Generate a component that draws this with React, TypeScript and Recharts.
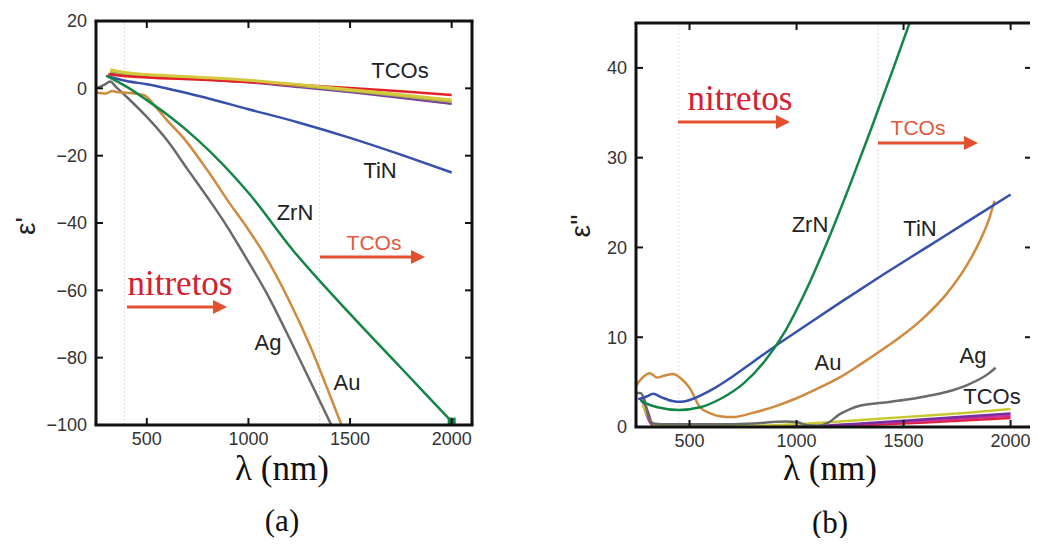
import { Line, LineChart, ReferenceLine, XAxis, YAxis } from 'recharts';

// (a) real part, wavelength in nm -> eps'
const tcoRedReal = [[310, 4.2], [400, 3.6], [500, 3.2], [750, 2.6], [1000, 1.9], [1250, 1.0], [1500, 0.1], [1750, -0.9], [2000, -2.0]];
const tcoPurpleReal = [[320, 4.6], [400, 3.9], [500, 3.5], [750, 2.8], [1000, 1.8], [1250, 0.4], [1500, -1.1], [1750, -2.8], [2000, -4.6]];
const tcoOliveReal = [[320, 5.0], [400, 4.3], [500, 3.8], [750, 3.0], [1000, 2.1], [1250, 0.8], [1500, -0.7], [1750, -2.3], [2000, -4.0]];
const tcoYellowReal = [[320, 5.5], [400, 4.6], [500, 4.1], [750, 3.3], [1000, 2.4], [1250, 1.1], [1500, -0.4], [1750, -1.9], [2000, -3.5]];
const tinReal = [[310, 3.5], [400, 2.2], [500, 1.2], [750, -2.2], [1000, -6.2], [1250, -10.2], [1500, -14.7], [1750, -19.7], [2000, -25]];
const zrnReal = [[300, 3.8], [400, 0.5], [500, -3.5], [600, -7.8], [750, -15.3], [1000, -31], [1218, -48], [1500, -67], [1750, -83], [2000, -99]];
const agReal = [[250, 0], [290, 1], [320, 2], [350, 0.3], [400, -2.5], [500, -8.5], [598, -15.3], [700, -24], [800, -32.5], [900, -41.5], [965, -48], [1100, -62], [1200, -74], [1300, -86.5], [1408, -100]];
const auReal = [[250, -1.2], [300, -1.5], [330, -0.8], [360, -1.2], [400, -1.3], [485, -2], [550, -6], [600, -9.5], [688, -15.3], [800, -24.5], [900, -33.5], [1000, -42], [1065, -48], [1200, -63], [1300, -76], [1400, -91], [1458, -100]];

// (b) imaginary part -> eps''
const zrnImag = [[270, 3.0], [300, 2.6], [350, 2.2], [450, 1.9], [550, 2.2], [650, 3.2], [750, 4.8], [850, 7.3], [950, 10.8], [1050, 15.5], [1150, 21], [1250, 27], [1350, 33.3], [1450, 39.8], [1540, 45.8]];
const tinImag = [[260, 3.1], [300, 3.4], [330, 3.7], [370, 3.3], [420, 2.9], [460, 2.8], [500, 3.0], [600, 4.1], [700, 5.6], [800, 7.3], [900, 9.0], [1000, 10.6], [1200, 13.8], [1400, 16.9], [1600, 19.9], [1800, 22.9], [2000, 25.9]];
const auImag = [[250, 4.6], [280, 5.5], [316, 6.0], [348, 5.5], [380, 5.7], [423, 5.9], [460, 5.4], [502, 4.3], [549, 2.2], [600, 1.5], [642, 1.2], [700, 1.1], [800, 1.6], [900, 2.3], [1000, 3.2], [1100, 4.3], [1200, 5.5], [1300, 7.0], [1400, 8.6], [1500, 10.3], [1600, 12.3], [1700, 14.8], [1800, 18.2], [1850, 20.4], [1900, 23.2], [1925, 25.2]];
const agImag = [[250, 3.8], [270, 3.8], [290, 3.0], [310, 1.0], [330, 0.4], [400, 0.3], [600, 0.3], [800, 0.4], [950, 0.6], [1000, 0.55], [1050, 0.2], [1100, 0.15], [1150, 0.5], [1200, 1.4], [1250, 2.0], [1300, 2.4], [1400, 2.7], [1500, 3.0], [1600, 3.4], [1700, 3.9], [1800, 4.7], [1900, 6.0], [1930, 6.6]];
const tcoYellowImag = [[280, 2.5], [310, 1.0], [340, 0.2], [600, 0.1], [900, 0.2], [1200, 0.6], [1500, 1.1], [1800, 1.6], [2000, 2.0]];
const tcoPurpleImag = [[270, 3.2], [300, 2.0], [330, 0.3], [600, 0.05], [1000, 0.05], [1300, 0.4], [1600, 0.85], [2000, 1.5]];
const tcoMagentaImag = [[290, 2], [330, 0.2], [1000, 0], [1300, 0.3], [1600, 0.7], [2000, 1.25]];
const tcoRedImag = [[300, 1.5], [330, 0.2], [1000, 0], [1300, 0.2], [1600, 0.5], [2000, 1.0]];

const xDomain = [250, 2100];
const xTicks = [500, 1000, 1500, 2000];
const realDomain = [-100, 20];
const realTicks = [-100, -80, -60, -40, -20, 0, 20];
const imagDomain = [0, 45];
const imagTicks = [0, 10, 20, 30, 40];
const realRegions = [390, 1350];
const imagRegions = [450, 1380];

const toRows = (pts: number[][]) => pts.map(([nm, v]) => ({ nm, v }));

const sans = 'Liberation Sans, Arial, sans-serif';
const serif = 'Liberation Serif, Times New Roman, serif';
const ink = '#111111';
const tickStyle = { fill: '#333', fontSize: 18, fontFamily: sans };
const minus = (v: number) => String(v).replace('-', '\u2212');

// plot boxes inside the 1022x530 container (chart margins + axis sizes)
const boxA = { left: 88, right: 464, top: 13, bottom: 417 };
const boxB = { left: 628, right: 1024, top: 15, bottom: 419 };

type Series = { pts: number[][]; color: string; width?: number; endMark?: boolean };

const renderLines = (series: Series[]) =>
    series.map((s, i) => {
        const rows = toRows(s.pts);
        return (
            <Line
                key={i}
                data={rows}
                dataKey="v"
                type="monotone"
                stroke={s.color}
                strokeWidth={s.width ?? 2.5}
                dot={
                    s.endMark
                        ? (p: any) =>
                              p.index === rows.length - 1 ? (
                                  <rect key={p.index} x={p.cx - 4} y={p.cy - 4} width={8} height={8} fill={s.color} />
                              ) : (
                                  <g key={p.index} />
                              )
                        : false
                }
                isAnimationActive={false}
            />
        );
    });

const Panel = ({ width, margin, yWidth, yDomain, yTicks, regions, series }: any) => (
    <LineChart width={width} height={460} margin={margin}>
        <XAxis type="number" dataKey="nm" domain={xDomain} ticks={xTicks} allowDataOverflow
            height={30} tickSize={-7} tickMargin={14} tick={tickStyle} axisLine={false} tickLine={false} />
        <YAxis type="number" domain={yDomain} ticks={yTicks} allowDataOverflow width={yWidth}
            tickSize={-7} tickMargin={16} tick={tickStyle} tickFormatter={minus} axisLine={false} tickLine={false} />
        {regions.map((x: number) => (
            <ReferenceLine key={x} x={x} stroke="#efd6da" strokeDasharray="2 2" strokeWidth={1} />
        ))}
        {renderLines(series)}
    </LineChart>
);

// box frame with inward ticks on all four sides
const Frame = ({ box, yDomain, yTicks }: { box: typeof boxA; yDomain: number[]; yTicks: number[] }) => {
    const sx = (v: number) => box.left + ((v - xDomain[0]) / (xDomain[1] - xDomain[0])) * (box.right - box.left);
    const sy = (v: number) => box.bottom - ((v - yDomain[0]) / (yDomain[1] - yDomain[0])) * (box.bottom - box.top);
    const t = 7;
    const { left: l, right: r, top: tp, bottom: b } = box;
    const segs: number[][] = [];
    xTicks.forEach((v) => {
        segs.push([sx(v), b, sx(v), b - t]);
        segs.push([sx(v), tp, sx(v), tp + t]);
    });
    yTicks.forEach((v) => {
        segs.push([l, sy(v), l + t, sy(v)]);
        segs.push([r, sy(v), r - t, sy(v)]);
    });
    const edges = [
        [l - 1.5, tp, r + 1.5, tp],
        [l - 1.5, b, r + 1.5, b],
        [l, tp, l, b],
        [r, tp, r, b],
    ];
    return (
        <g>
            {segs.map((s, i) => (
                <line key={`t${i}`} x1={s[0]} y1={s[1]} x2={s[2]} y2={s[3]} stroke={ink} strokeWidth={2} />
            ))}
            {edges.map((s, i) => (
                <line key={`e${i}`} x1={s[0]} y1={s[1]} x2={s[2]} y2={s[3]} stroke={ink} strokeWidth={3} />
            ))}
        </g>
    );
};

const realSeries: Series[] = [
    { pts: tcoPurpleReal, color: '#7b3f9e' },
    { pts: tcoOliveReal, color: '#a9b43c' },
    { pts: tcoRedReal, color: '#e32228' },
    { pts: tcoYellowReal, color: '#d3c83e', width: 3 },
    { pts: agReal, color: '#6a6a6a' },
    { pts: auReal, color: '#d08a3e' },
    { pts: tinReal, color: '#3650ae' },
    { pts: zrnReal, color: '#138645', endMark: true },
];

const imagSeries: Series[] = [
    { pts: tcoRedImag, color: '#e4203a' },
    { pts: tcoMagentaImag, color: '#c8309a' },
    { pts: tcoPurpleImag, color: '#7a2d9c' },
    { pts: tcoYellowImag, color: '#c8c832' },
    { pts: agImag, color: '#6a6a6a' },
    { pts: auImag, color: '#d08a3e' },
    { pts: tinImag, color: '#3650ae' },
    { pts: zrnImag, color: '#138645' },
];

const Arrow = ({ x1, x2, y }: { x1: number; x2: number; y: number }) => (
    <g>
        <line x1={x1} y1={y} x2={x2 - 10} y2={y} stroke="#e4502e" strokeWidth={3} />
        <polygon points={`${x2},${y} ${x2 - 14},${y - 7} ${x2 - 14},${y + 7}`} fill="#e4502e" />
    </g>
);

const lbl = { fontFamily: sans, fontSize: 22, fill: '#222', textAnchor: 'middle' as const, dominantBaseline: 'central' as const };
const red = { ...lbl, fill: '#e4573a', fontSize: 21 };
const nitr = { fontFamily: serif, fontSize: 35, fill: '#d42030', textAnchor: 'middle' as const };
const big = { fontFamily: serif, fontSize: 35, fill: '#111', textAnchor: 'middle' as const, dominantBaseline: 'central' as const };

export default function App() {
    return (
        <div style={{ position: 'relative', width: 1022, height: 530 }}>
            <div style={{ position: 'absolute', left: 0, top: 0 }}>
                <Panel width={500} margin={{ top: 13, right: 36, bottom: 13, left: 0 }} yWidth={88}
                    yDomain={realDomain} yTicks={realTicks} regions={realRegions} series={realSeries} />
            </div>
            <div style={{ position: 'absolute', left: 520, top: 0 }}>
                <Panel width={510} margin={{ top: 15, right: 6, bottom: 11, left: 0 }} yWidth={108}
                    yDomain={imagDomain} yTicks={imagTicks} regions={imagRegions} series={imagSeries} />
            </div>
            <svg width={1022} height={530} style={{ position: 'absolute', left: 0, top: 0, pointerEvents: 'none' }}>
                <Frame box={boxA} yDomain={realDomain} yTicks={realTicks} />
                <Frame box={boxB} yDomain={imagDomain} yTicks={imagTicks} />
                {/* panel (a) */}
                <text x={392} y={62} {...lbl}>TCOs</text>
                <text x={372} y={162} {...lbl}>TiN</text>
                <text x={287} y={204} {...lbl}>ZrN</text>
                <text x={366} y={234} {...red}>TCOs</text>
                <Arrow x1={312} x2={417} y={249} />
                <text x={172} y={287} {...nitr}>nitretos</text>
                <Arrow x1={119} x2={219} y={299} />
                <text x={260} y={334} {...lbl}>Ag</text>
                <text x={339} y={374} {...lbl}>Au</text>
                <text x={17} y={218} {...lbl} fontSize={28} transform="rotate(-90 17 218)">ε'</text>
                <text x={274} y={460} {...big}>λ (nm)</text>
                <text x={274} y={512} {...big} fontSize={31}>(a)</text>
                {/* panel (b) */}
                <text x={732} y={102} {...nitr}>nitretos</text>
                <Arrow x1={670} x2={782} y={114} />
                <text x={910} y={119} {...red}>TCOs</text>
                <Arrow x1={870} x2={970} y={135} />
                <text x={802} y={216} {...lbl}>ZrN</text>
                <text x={912} y={220} {...lbl}>TiN</text>
                <text x={820} y={354} {...lbl}>Au</text>
                <text x={965} y={347} {...lbl}>Ag</text>
                <text x={984} y={388} {...lbl}>TCOs</text>
                <text x={572} y={218} {...lbl} fontSize={28} transform="rotate(-90 572 218)">ε''</text>
                <text x={822} y={460} {...big}>λ (nm)</text>
                <text x={822} y={514} {...big} fontSize={31}>(b)</text>
            </svg>
        </div>
    );
}
